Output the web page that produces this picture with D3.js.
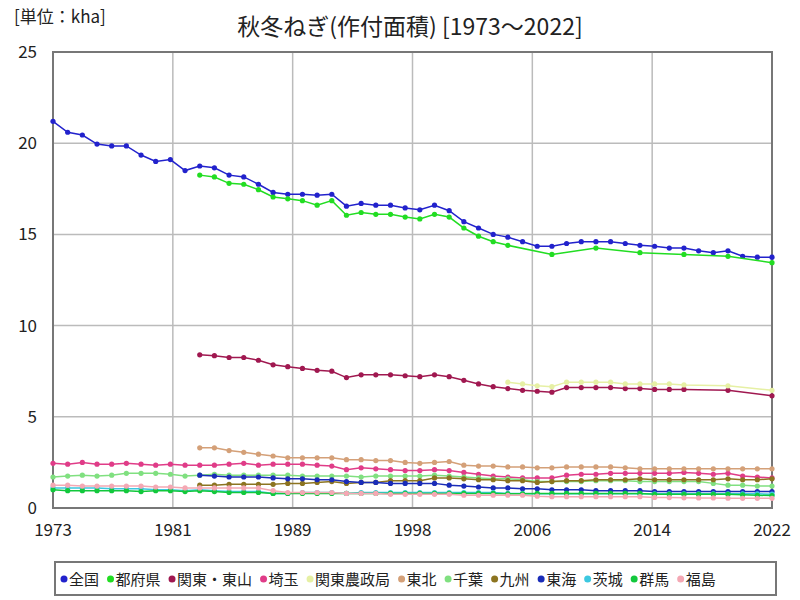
<!DOCTYPE html>
<html>
<head>
<meta charset="utf-8">
<script src="https://cdn.jsdelivr.net/npm/d3@7"></script>
<style>
  body { margin: 0; background: #fff; }
  text { font-family: "Noto Sans CJK JP", "Noto Sans", sans-serif; fill: #222; }
</style>
</head>
<body>
<div id="chart"></div>
<script>
// 秋冬ねぎ 作付面積 (kha) 1973-2022
var years = d3.range(1973, 2023);
var N = null;

var zenkoku = [21.2, 20.6, 20.45, 19.95, 19.85, 19.85, 19.35, 19.0, 19.1, 18.5,
  18.75, 18.65, 18.25, 18.15, 17.75, 17.3, 17.2, 17.2, 17.15, 17.2,
  16.55, 16.7, 16.6, 16.6, 16.45, 16.35, 16.6, 16.3, 15.7, 15.35,
  15.0, 14.85, 14.6, 14.35, 14.35, 14.5, 14.6, 14.6, 14.6, 14.5,
  14.4, 14.35, 14.25, 14.25, 14.1, 14.0, 14.1, 13.8, 13.75, 13.75];
var tofuken = [N, N, N, N, N, N, N, N, N, N,
  18.25, 18.15, 17.8, 17.75, 17.45, 17.05, 16.95, 16.85, 16.6, 16.85,
  16.05, 16.2, 16.1, 16.1, 15.95, 15.85, 16.1, 15.95, 15.35, 14.9,
  14.6, 14.4, N, N, 13.9, N, N, 14.25, N, N,
  14.0, N, N, 13.9, N, N, 13.8, N, N, 13.45];
var kantoTozan = [N, N, N, N, N, N, N, N, N, N,
  8.4, 8.35, 8.25, 8.25, 8.1, 7.85, 7.75, 7.65, 7.55, 7.5,
  7.15, 7.3, 7.3, 7.3, 7.25, 7.2, 7.3, 7.2, 7.0, 6.8,
  6.65, 6.55, 6.45, 6.4, 6.35, 6.6, 6.6, 6.6, 6.6, 6.55,
  6.55, 6.5, 6.5, 6.5, N, N, 6.45, N, N, 6.15];
var kantoNosei = [N, N, N, N, N, N, N, N, N, N,
  N, N, N, N, N, N, N, N, N, N,
  N, N, N, N, N, N, N, N, N, N,
  N, 6.9, 6.8, 6.7, 6.65, 6.9, 6.9, 6.9, 6.9, 6.8,
  6.8, 6.8, 6.8, 6.75, N, N, 6.7, N, N, 6.45];
var saitama = [2.45, 2.4, 2.5, 2.4, 2.4, 2.45, 2.4, 2.35, 2.4, 2.35,
  2.35, 2.35, 2.4, 2.45, 2.35, 2.4, 2.4, 2.4, 2.35, 2.3,
  2.1, 2.2, 2.15, 2.1, 2.05, 2.05, 2.1, 2.05, 1.95, 1.85,
  1.75, 1.7, 1.65, 1.65, 1.65, 1.8, 1.85, 1.85, 1.9, 1.9,
  1.9, 1.9, 1.9, 1.95, 1.9, 1.85, 1.9, 1.75, 1.7, 1.65];
var tohoku = [N, N, N, N, N, N, N, N, N, N,
  3.3, 3.3, 3.15, 3.05, 2.95, 2.85, 2.75, 2.75, 2.75, 2.75,
  2.65, 2.65, 2.6, 2.6, 2.5, 2.45, 2.5, 2.55, 2.35, 2.3,
  2.3, 2.25, 2.25, 2.2, 2.2, 2.25, 2.25, 2.25, 2.25, 2.2,
  2.15, 2.15, 2.15, 2.15, 2.15, 2.15, 2.15, 2.15, 2.15, 2.15];
var chiba = [1.7, 1.75, 1.8, 1.75, 1.8, 1.9, 1.9, 1.9, 1.85, 1.75,
  1.8, 1.85, 1.8, 1.8, 1.8, 1.8, 1.8, 1.75, 1.75, 1.75,
  1.75, 1.7, 1.75, 1.75, 1.75, 1.75, 1.8, 1.75, 1.7, 1.65,
  1.6, 1.6, 1.55, 1.45, 1.45, 1.45, 1.45, 1.5, 1.5, 1.5,
  1.45, 1.45, 1.45, 1.45, 1.45, 1.35, 1.25, 1.25, 1.2, 1.2];
var kyushu = [N, N, N, N, N, N, N, N, N, N,
  1.25, 1.25, 1.3, 1.3, 1.3, 1.3, 1.35, 1.35, 1.4, 1.45,
  1.35, 1.4, 1.4, 1.5, 1.5, 1.5, 1.65, 1.65, 1.6, 1.55,
  1.55, 1.5, 1.5, 1.4, 1.45, 1.5, 1.5, 1.55, 1.55, 1.55,
  1.6, 1.55, 1.55, 1.55, 1.55, 1.55, 1.6, 1.55, 1.55, 1.6];
var tokai = [N, N, N, N, N, N, N, N, N, N,
  1.8, 1.75, 1.7, 1.7, 1.7, 1.65, 1.6, 1.6, 1.55, 1.55,
  1.45, 1.4, 1.4, 1.35, 1.35, 1.35, 1.35, 1.25, 1.2, 1.15,
  1.1, 1.1, 1.05, 1.05, 1.0, 1.0, 1.0, 0.95, 0.95, 0.95,
  0.95, 0.9, 0.9, 0.9, 0.9, 0.9, 0.9, 0.9, 0.9, 0.9];
var ibaraki = [1.1, 1.1, 1.1, 1.1, 1.05, 1.05, 1.05, 1.0, 1.0, 0.95,
  1.0, 0.95, 0.9, 0.9, 0.9, 0.8, 0.8, 0.85, 0.85, 0.85,
  0.8, 0.85, 0.85, 0.85, 0.85, 0.85, 0.85, 0.85, 0.85, 0.85,
  0.85, 0.8, 0.8, 0.78, 0.78, 0.78, 0.78, 0.78, 0.78, 0.78,
  0.78, 0.78, 0.78, 0.78, 0.78, 0.78, 0.78, 0.78, 0.78, 0.76];
var gunma = [1.0, 0.95, 0.95, 0.95, 0.95, 0.95, 0.9, 0.95, 0.95, 0.9,
  0.95, 0.9, 0.85, 0.85, 0.85, 0.8, 0.8, 0.8, 0.8, 0.8,
  0.8, 0.8, 0.8, 0.8, 0.8, 0.8, 0.8, 0.8, 0.8, 0.8,
  0.8, 0.78, 0.78, 0.8, 0.8, 0.8, 0.8, 0.8, 0.8, 0.8,
  0.8, 0.75, 0.75, 0.75, 0.75, 0.75, 0.75, 0.72, 0.7, 0.68];
var fukushima = [1.25, 1.25, 1.2, 1.2, 1.2, 1.2, 1.2, 1.15, 1.15, 1.1,
  1.1, 1.1, 1.1, 1.1, 1.1, 0.95, 0.85, 0.85, 0.85, 0.85,
  0.8, 0.8, 0.8, 0.75, 0.75, 0.75, 0.75, 0.75, 0.7, 0.7,
  0.7, 0.7, 0.7, 0.65, 0.62, 0.62, 0.62, 0.62, 0.62, 0.62,
  0.62, 0.58, 0.57, 0.56, 0.55, 0.55, 0.54, 0.53, 0.53, 0.53];

var names = ["全国", "都府県", "関東・東山", "埼玉", "関東農政局", "東北", "千葉", "九州", "東海", "茨城", "群馬", "福島"];
var values = [zenkoku, tofuken, kantoTozan, saitama, kantoNosei, tohoku, chiba, kyushu, tokai, ibaraki, gunma, fukushima];
var colors = ["#2222cc", "#22dd22", "#a01850", "#e03c88", "#e6f0a4", "#d4a078", "#80e080", "#8c7420", "#1a2cb8", "#3cc8e0", "#12c83c", "#f4a8b4"];
var yTicks = [0, 5, 10, 15, 20, 25];

var width = 800, height = 600;
var plotLeft = 53, plotRight = 772, plotTop = 52, plotBottom = 508;

var svg = d3.select("#chart").append("svg")
  .attr("width", width).attr("height", height);

var x = d3.scaleLinear().domain([1973, 2022]).range([plotLeft, plotRight]);
var y = d3.scaleLinear().domain([0, 25]).range([plotBottom, plotTop]);

// grid (x ticks are evenly spaced, labels rounded)
var xTicks = d3.range(7).map(function (i) { return 1973 + i * 49 / 6; });

svg.append("g").selectAll("line").data(xTicks.slice(1, -1)).enter().append("line")
  .attr("x1", function (d) { return x(d); }).attr("x2", function (d) { return x(d); })
  .attr("y1", plotTop).attr("y2", plotBottom)
  .style("stroke", "#bbb").style("stroke-width", 1.5);
svg.append("g").selectAll("line").data(yTicks.slice(1, -1)).enter().append("line")
  .attr("x1", plotLeft).attr("x2", plotRight)
  .attr("y1", function (d) { return y(d); }).attr("y2", function (d) { return y(d); })
  .style("stroke", "#bbb").style("stroke-width", 1.5);

svg.append("rect")
  .attr("x", plotLeft).attr("y", plotTop).attr("width", plotRight - plotLeft).attr("height", plotBottom - plotTop)
  .style("fill", "none").style("stroke", "#777").style("stroke-width", 2);

// axis labels
svg.append("g").selectAll("text").data(yTicks).enter().append("text")
  .attr("x", 37).attr("y", function (d) { return y(d) + 6; })
  .attr("text-anchor", "end")
  .style("font-size", "17px")
  .text(function (d) { return d; });

svg.append("g").selectAll("text").data(xTicks).enter().append("text")
  .attr("x", function (d) { return x(d); }).attr("y", 536)
  .attr("text-anchor", "middle")
  .style("font-size", "17px")
  .text(function (d) { return Math.round(d); });

// titles
svg.append("text")
  .attr("x", 410).attr("y", 35)
  .attr("text-anchor", "middle")
  .style("font-size", "23px")
  .text("秋冬ねぎ(作付面積) [1973～2022]");

svg.append("text")
  .attr("x", 14).attr("y", 23)
  .style("font-size", "17px")
  .text("[単位：kha]");

// series
var line = d3.line()
  .x(function (d) { return x(d.year); })
  .y(function (d) { return y(d.v); });

values.forEach(function (arr, i) {
  var pts = years.map(function (yr, j) { return { year: yr, v: arr[j] }; })
    .filter(function (d) { return d.v !== null; });
  var g = svg.append("g");
  g.append("path").datum(pts)
    .attr("d", line)
    .style("fill", "none")
    .style("stroke", colors[i])
    .style("stroke-width", 1.5);
  g.selectAll("circle").data(pts).enter().append("circle")
    .attr("cx", function (d) { return x(d.year); })
    .attr("cy", function (d) { return y(d.v); })
    .attr("r", 2.6)
    .style("fill", colors[i]);
});

// legend
svg.append("rect")
  .attr("x", 55).attr("y", 562).attr("width", 721).attr("height", 33)
  .style("fill", "#fff").style("stroke", "#777").style("stroke-width", 2);

var lx = 61;
names.forEach(function (n, i) {
  svg.append("circle").attr("cx", lx + 3).attr("cy", 579).attr("r", 3.5).style("fill", colors[i]);
  var t = svg.append("text").attr("x", lx + 8).attr("y", 585)
    .style("font-size", "15px").text(n);
  lx += 8 + t.node().getComputedTextLength() + 8.5;
});
</script>
</body>
</html>
